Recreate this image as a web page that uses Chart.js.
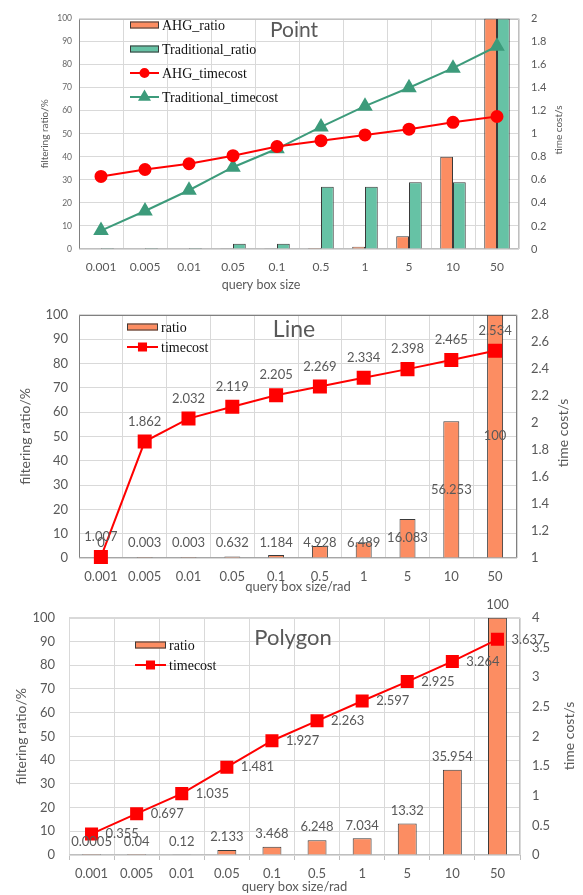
<!DOCTYPE html>
<html>
<head>
<meta charset="utf-8">
<script src="https://cdn.jsdelivr.net/npm/chart.js@4/dist/chart.umd.min.js"></script>
<style>
  html, body { margin: 0; padding: 0; background: #fff; }
  body { width: 583px; height: 895px; position: relative; overflow: hidden; }
  .panel { position: absolute; left: 0; width: 583px; }
  .panel canvas { display: block; }
</style>
</head>
<body>
<div class="panel" style="top:0;height:293px"><canvas id="pointChart"></canvas></div>
<div class="panel" style="top:293px;height:303px"><canvas id="lineChart"></canvas></div>
<div class="panel" style="top:596px;height:299px"><canvas id="polygonChart"></canvas></div>
<script>
// Query box sizes (shared category axis)
const querySizes = ['0.001', '0.005', '0.01', '0.05', '0.1', '0.5', '1', '5', '10', '50'];

// Point data: filtering ratio (%) and time cost (s)
const pointAhgRatio = [0, 0, 0, 0.3, 0.3, 0.4, 1.0, 5.5, 40, 100];
const pointTradRatio = [0.4, 0.4, 0.4, 2.3, 2.3, 27, 27, 29, 29, 100];
const pointAhgTime = [0.63, 0.69, 0.74, 0.81, 0.89, 0.94, 0.99, 1.04, 1.10, 1.15];
const pointTradTime = [0.16, 0.33, 0.51, 0.71, 0.87, 1.06, 1.24, 1.40, 1.57, 1.76];

// Line data
const lineRatio = [0, 0.003, 0.003, 0.632, 1.184, 4.928, 6.489, 16.083, 56.253, 100];
const lineTime = [1.007, 1.862, 2.032, 2.119, 2.205, 2.269, 2.334, 2.398, 2.465, 2.534];

// Polygon data
const polygonRatio = [0.0005, 0.04, 0.12, 2.133, 3.468, 6.248, 7.034, 13.32, 35.954, 100];
const polygonTime = [0.355, 0.697, 1.035, 1.481, 1.927, 2.263, 2.597, 2.925, 3.264, 3.637];

const SANS = 'Lato, "Open Sans", sans-serif';
const SERIF = '"Liberation Serif", "DejaVu Serif", serif';
const GREY = '#595959';
const GRID = '#d9d9d9';
const ORANGE = '#fc8d62';
const TEAL = '#66c2a5';
const DARK_TEAL = '#3d9b7b';
const RED = '#ff0000';
const OUTLINE = '#3a3a3a';

Chart.defaults.font.family = SANS;
Chart.defaults.color = GREY;
Chart.defaults.animation = false;

const tidy = v => String(+Number(v).toFixed(2));

// Frame around the plot area, one colour per side
const plotFrame = {
  id: 'plotFrame',
  beforeDatasetsDraw(chart, args, o) {
    const { ctx, chartArea: a } = chart;
    const L = Math.round(a.left) + 0.5, R = Math.round(a.right) - 0.5;
    const T = Math.round(a.top) + 0.5, B = Math.round(a.bottom) - 0.5;
    ctx.save();
    ctx.lineWidth = 1;
    const seg = (c, x1, y1, x2, y2) => {
      ctx.strokeStyle = c; ctx.beginPath(); ctx.moveTo(x1, y1); ctx.lineTo(x2, y2); ctx.stroke();
    };
    seg(o.top, L, T, R, T);
    seg(o.bottom, L, B, R, B);
    seg(o.left, L, T, L, B);
    seg(o.right, R, T, R, B);
    ctx.restore();
  }
};

// Legend drawn inside the plot area
const insetLegend = {
  id: 'insetLegend',
  afterDatasetsDraw(chart, args, o) {
    const ctx = chart.ctx;
    ctx.save();
    chart.data.datasets.forEach((ds, i) => {
      const y = o.y + i * o.gap;
      const x0 = o.x, w = o.w;
      if ((ds.type || 'bar') === 'bar') {
        ctx.fillStyle = ds.backgroundColor;
        ctx.fillRect(x0, y - 3.5, w, 7);
        ctx.strokeStyle = OUTLINE; ctx.lineWidth = 1;
        ctx.strokeRect(x0 + 0.5, y - 3, w - 1, 6);
      } else {
        ctx.strokeStyle = ds.borderColor; ctx.lineWidth = 2;
        ctx.beginPath(); ctx.moveTo(x0, y); ctx.lineTo(x0 + w, y); ctx.stroke();
        ctx.fillStyle = ds.pointBackgroundColor || ds.borderColor;
        ctx.strokeStyle = ds.pointBorderColor || ds.borderColor;
        Chart.helpers.drawPoint(ctx, {
          pointStyle: ds.pointStyle, rotation: 0, borderWidth: 1,
          radius: (o.marker && o.marker[ds.pointStyle]) || 4
        }, x0 + w / 2, y);
      }
      ctx.fillStyle = '#111';
      ctx.font = `${o.size}px ${SERIF}`;
      ctx.textAlign = 'left'; ctx.textBaseline = 'middle';
      ctx.fillText(ds.label, x0 + w + 3, y + 1);
    });
    ctx.restore();
  }
};

// Value labels for bars and points
const valueLabels = {
  id: 'valueLabels',
  afterDatasetsDraw(chart, args, o) {
    if (!o.sets) return;
    const ctx = chart.ctx;
    ctx.save();
    ctx.font = `${o.size}px ${SANS}`;
    ctx.fillStyle = GREY;
    o.sets.forEach(cfg => {
      const meta = chart.getDatasetMeta(cfg.index);
      const values = chart.data.datasets[cfg.index].data;
      meta.data.forEach((el, j) => {
        let x = el.x, y = el.y;
        ctx.textAlign = 'center'; ctx.textBaseline = 'middle';
        if (cfg.place === 'barMiddle') {
          y = Math.min((el.y + el.base) / 2, el.base - cfg.gap);
        } else if (cfg.place === 'above') {
          y = el.y - cfg.gap;
        } else if (cfg.place === 'right') {
          x = el.x + cfg.gap; ctx.textAlign = 'left';
        }
        ctx.fillText(String(values[j]), x, y);
      });
    });
    ctx.restore();
  }
};

// Free-standing texts (chart names, axis captions), optionally rotated
const freeText = {
  id: 'freeText',
  afterDraw(chart, args, o) {
    if (!o.items) return;
    const ctx = chart.ctx;
    o.items.forEach(t => {
      ctx.save();
      ctx.translate(t.x, t.y);
      if (t.rotate) ctx.rotate(t.rotate * Math.PI / 180);
      ctx.font = `${t.size}px ${SANS}`;
      ctx.fillStyle = t.color || GREY;
      ctx.textAlign = 'center'; ctx.textBaseline = 'middle';
      ctx.fillText(t.text, 0, 0);
      ctx.restore();
    });
  }
};

const allPlugins = [plotFrame, insetLegend, valueLabels, freeText];

function axisTitle(text, size, pad) {
  return { display: true, text, font: { size }, color: GREY, padding: pad };
}

// ---------- Point ----------
new Chart(document.getElementById('pointChart'), {
  type: 'bar',
  data: {
    labels: querySizes,
    datasets: [
      { label: 'AHG_ratio', data: pointAhgRatio, backgroundColor: ORANGE, borderColor: OUTLINE, borderWidth: 1,
        barPercentage: 1, categoryPercentage: 0.58, yAxisID: 'y', order: 2 },
      { label: 'Traditional_ratio', data: pointTradRatio, backgroundColor: TEAL, borderColor: OUTLINE, borderWidth: 1,
        barPercentage: 1, categoryPercentage: 0.58, yAxisID: 'y', order: 2 },
      { type: 'line', label: 'AHG_timecost', data: pointAhgTime, borderColor: RED, backgroundColor: RED,
        pointBackgroundColor: RED, pointBorderColor: RED, pointStyle: 'circle', pointRadius: 5.5, borderWidth: 2,
        yAxisID: 'y1', order: 1, clip: false },
      { type: 'line', label: 'Traditional_timecost', data: pointTradTime, borderColor: DARK_TEAL, backgroundColor: DARK_TEAL,
        pointBackgroundColor: DARK_TEAL, pointBorderColor: DARK_TEAL, pointStyle: 'triangle', pointRadius: 7, borderWidth: 2,
        yAxisID: 'y1', order: 1, clip: false }
    ]
  },
  options: {
    responsive: true, maintainAspectRatio: false, devicePixelRatio: 1,
    layout: { padding: { top: 11, left: 0, right: 0, bottom: 0 } },
    scales: {
      x: {
        grid: { color: GRID, offset: true, drawTicks: false }, border: { display: false },
        ticks: { padding: 11, font: { size: 12 }, color: GREY, autoSkip: false, maxRotation: 0 },
        afterFit: s => { s.height = 44; }
      },
      y: {
        position: 'left', min: 0, max: 100,
        grid: { color: GRID, drawTicks: false }, border: { display: false },
        ticks: { stepSize: 10, padding: 7, font: { size: 8.5 }, color: '#666', callback: tidy },
        title: axisTitle('filtering ratio/%', 10, { top: 39 }),
        afterFit: s => { s.width = 79; }
      },
      y1: {
        position: 'right', min: 0, max: 2,
        grid: { drawOnChartArea: false, drawTicks: false }, border: { display: false },
        ticks: { stepSize: 0.2, padding: 12, font: { size: 11 }, color: GREY, callback: tidy },
        afterFit: s => { s.width = 64; }
      }
    },
    plugins: {
      legend: { display: false }, tooltip: { enabled: false },
      plotFrame: { top: '#bfbfbf', bottom: '#bfbfbf', left: '#808080', right: '#bfbfbf' },
      insetLegend: { x: 130, y: 25, gap: 24, w: 29, size: 14, marker: { circle: 4, triangle: 5.5 } },
      freeText: { items: [
        { text: 'Point', x: 294, y: 30, size: 21 },
        { text: 'query box size', x: 261, y: 284.5, size: 12.5 },
        { text: 'time cost/s', x: 559, y: 130, size: 10, rotate: -90 }
      ] }
    }
  },
  plugins: allPlugins
});

// ---------- Line ----------
new Chart(document.getElementById('lineChart'), {
  type: 'bar',
  data: {
    labels: querySizes,
    datasets: [
      { label: 'ratio', data: lineRatio, backgroundColor: ORANGE, borderColor: OUTLINE, borderWidth: 1,
        barPercentage: 1, categoryPercentage: 0.365, yAxisID: 'y', order: 2 },
      { type: 'line', label: 'timecost', data: lineTime, borderColor: RED, backgroundColor: RED,
        pointBackgroundColor: RED, pointBorderColor: RED, pointStyle: 'rect', pointRadius: 8.5, borderWidth: 2,
        yAxisID: 'y1', order: 1, clip: false }
    ]
  },
  options: {
    responsive: true, maintainAspectRatio: false, devicePixelRatio: 1,
    layout: { padding: { top: 16, left: 0, right: 0, bottom: 0 } },
    scales: {
      x: {
        grid: { color: GRID, offset: true, drawTicks: false }, border: { display: false },
        ticks: { padding: 11, font: { size: 13 }, color: GREY, autoSkip: false, maxRotation: 0 },
        title: axisTitle('query box size/rad', 13, { bottom: 1 }),
        afterFit: s => { s.height = 38; }
      },
      y: {
        position: 'left', min: 0, max: 100,
        grid: { color: GRID, drawTicks: false }, border: { display: false },
        ticks: { stepSize: 10, padding: 11, font: { size: 13 }, color: GREY, callback: tidy },
        title: axisTitle('filtering ratio/%', 14, { top: 17 }),
        afterFit: s => { s.width = 79; }
      },
      y1: {
        position: 'right', min: 1, max: 2.8,
        grid: { drawOnChartArea: false, drawTicks: false }, border: { display: false },
        ticks: { stepSize: 0.2, padding: 14, font: { size: 13 }, color: GREY, callback: tidy },
        afterFit: s => { s.width = 66; }
      }
    },
    plugins: {
      legend: { display: false }, tooltip: { enabled: false },
      plotFrame: { top: '#808080', bottom: '#a6a6a6', left: '#808080', right: '#808080' },
      insetLegend: { x: 127, y: 34, gap: 20, w: 31, size: 14, marker: { rect: 5 } },
      valueLabels: { size: 13, sets: [
        { index: 0, place: 'barMiddle', gap: 15 },
        { index: 1, place: 'above', gap: 20 }
      ] },
      freeText: { items: [
        { text: 'Line', x: 294, y: 37, size: 23 },
        { text: 'time cost/s', x: 563, y: 140, size: 14, rotate: -90 }
      ] }
    }
  },
  plugins: allPlugins
});

// ---------- Polygon ----------
new Chart(document.getElementById('polygonChart'), {
  type: 'bar',
  data: {
    labels: querySizes,
    datasets: [
      { label: 'ratio', data: polygonRatio, backgroundColor: ORANGE, borderColor: OUTLINE, borderWidth: 1,
        barPercentage: 1, categoryPercentage: 0.42, yAxisID: 'y', order: 2 },
      { type: 'line', label: 'timecost', data: polygonTime, borderColor: RED, backgroundColor: RED,
        pointBackgroundColor: RED, pointBorderColor: RED, pointStyle: 'rect', pointRadius: 7.8, borderWidth: 2,
        yAxisID: 'y1', order: 1, clip: false }
    ]
  },
  options: {
    responsive: true, maintainAspectRatio: false, devicePixelRatio: 1,
    layout: { padding: { top: 21, left: 0, right: 0, bottom: 0 } },
    scales: {
      x: {
        grid: { color: GRID, offset: true, drawTicks: true, tickLength: 5, tickColor: '#bfbfbf' }, border: { display: false },
        ticks: { padding: 6, font: { size: 13 }, color: GREY, autoSkip: false, maxRotation: 0 },
        title: axisTitle('query box size/rad', 13, { bottom: 0 }),
        afterFit: s => { s.height = 40; }
      },
      y: {
        position: 'left', min: 0, max: 100,
        grid: { color: GRID, drawTicks: false }, border: { display: false },
        ticks: { stepSize: 10, padding: 14, font: { size: 13 }, color: GREY, callback: tidy },
        title: axisTitle('filtering ratio/%', 14, { top: 13 }),
        afterFit: s => { s.width = 69; }
      },
      y1: {
        position: 'right', min: 0, max: 4,
        grid: { drawOnChartArea: false, drawTicks: false }, border: { display: false },
        ticks: { stepSize: 0.5, padding: 12, font: { size: 13 }, color: GREY, callback: tidy },
        afterFit: s => { s.width = 63; }
      }
    },
    plugins: {
      legend: { display: false }, tooltip: { enabled: false },
      plotFrame: { top: '#d9d9d9', bottom: '#bfbfbf', left: '#d9d9d9', right: '#bfbfbf' },
      insetLegend: { x: 135, y: 49, gap: 20, w: 31, size: 14, marker: { rect: 5 } },
      valueLabels: { size: 13, sets: [
        { index: 0, place: 'above', gap: 13 },
        { index: 1, place: 'right', gap: 14 }
      ] },
      freeText: { items: [
        { text: 'Polygon', x: 293, y: 42, size: 22 },
        { text: 'time cost/s', x: 569, y: 140, size: 14, rotate: -90 }
      ] }
    }
  },
  plugins: allPlugins
});
</script>
</body>
</html>
